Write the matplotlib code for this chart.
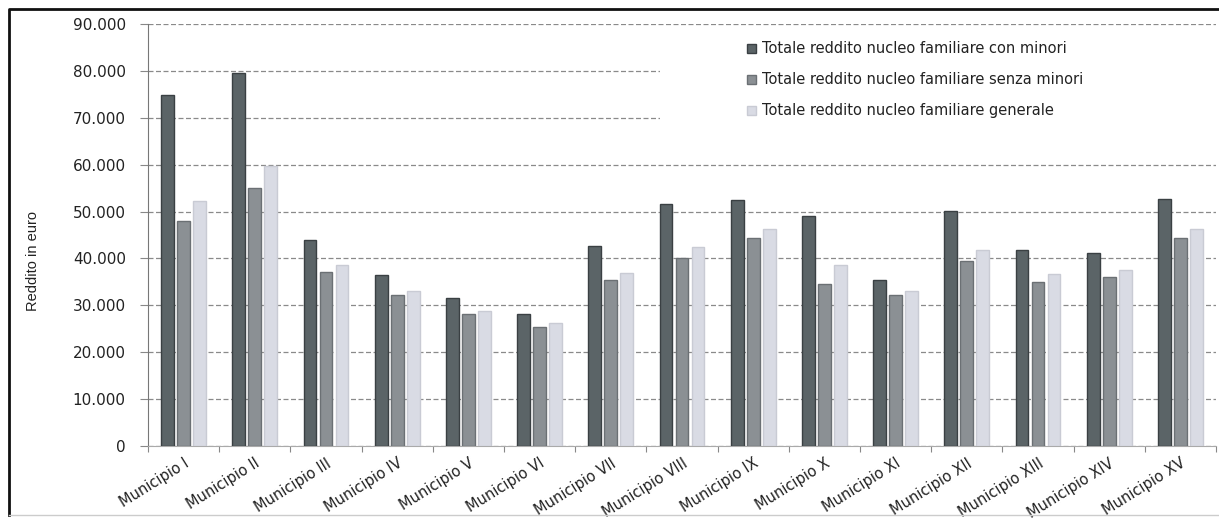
import numpy as np
import matplotlib
matplotlib.use("Agg")
import matplotlib.pyplot as plt
from matplotlib.lines import Line2D
from matplotlib.patches import Rectangle
from matplotlib.ticker import FuncFormatter, MultipleLocator


municipi = ["Municipio I", "Municipio II", "Municipio III", "Municipio IV",
            "Municipio V", "Municipio VI", "Municipio VII", "Municipio VIII",
            "Municipio IX", "Municipio X", "Municipio XI", "Municipio XII",
            "Municipio XIII", "Municipio XIV", "Municipio XV"]

con_minori = [74800, 79600, 43900, 36500, 31500, 28100, 42700, 51600,
              52500, 49100, 35500, 50100, 41800, 41100, 52700]
senza_minori = [48000, 55000, 37000, 32200, 28100, 25400, 35500, 40100,
                44300, 34500, 32300, 39400, 35000, 36100, 44300]
generale = [52300, 59800, 38600, 33100, 28800, 26300, 36800, 42400,
            46300, 38600, 33000, 41900, 36600, 37500, 46300]

serie = [
    ("Totale reddito nucleo familiare con minori", con_minori, "#5b6467", "#3a4043"),
    ("Totale reddito nucleo familiare senza minori", senza_minori, "#8b9094", "#6b7074"),
    ("Totale reddito nucleo familiare generale", generale, "#d9dbe4", "#c9cbd4"),
]


def migliaia(v, pos):
    return f"{int(v):,}".replace(",", ".")


fig = plt.figure(figsize=(12.19, 5.19), dpi=100)
ax = fig.add_axes([0.1214, 0.1407, 0.8761, 0.8131])

x = np.arange(len(municipi))
w = 0.18
passo = 0.225
for i, (nome, valori, colore, bordo) in enumerate(serie):
    ax.bar(x + (i - 1) * passo, valori, width=w, color=colore,
           edgecolor=bordo, linewidth=1.0, label=nome, zorder=3)

ax.set_xlim(-0.5, len(municipi) - 0.5)
ax.set_ylim(0, 90000)
ax.yaxis.set_major_locator(MultipleLocator(10000))
ax.yaxis.set_major_formatter(FuncFormatter(migliaia))
ax.set_axisbelow(True)
ax.grid(axis="y", color="#8a8a8a", linestyle=(0, (4, 2)), linewidth=0.9, zorder=0)

# fondo bianco dietro la legenda
ax.add_patch(Rectangle((0.479, 0.678), 0.521, 0.31, transform=ax.transAxes,
                       facecolor="white", edgecolor="none", zorder=1))

ax.set_xticks(x)
ax.set_xticklabels(municipi, rotation=32, ha="right", rotation_mode="anchor",
                   fontsize=10.5, color="#222222")
ax.set_xticks(np.arange(len(municipi) + 1) - 0.5, minor=True)
ax.tick_params(axis="x", which="major", length=0, pad=7)
ax.tick_params(axis="x", which="minor", length=4, color="#888888", width=0.8)
ax.tick_params(axis="y", length=6, color="#888888", pad=10, labelsize=11,
               labelcolor="#222222")

for s in ["top", "right"]:
    ax.spines[s].set_visible(False)
ax.spines["left"].set_color("#777777")
ax.spines["bottom"].set_color("#aaaaaa")

ax.set_ylabel("Reddito in euro", fontsize=10.5, family="Liberation Sans",
              color="#222222")
ax.yaxis.set_label_coords(-0.101, 0.438)

leg = ax.legend(loc="upper left", bbox_to_anchor=(0.549, 0.99), frameon=False,
                prop={"size": 10.5},
                handlelength=0.6, handleheight=0.6, handletextpad=0.4,
                labelspacing=1.1)
for t in leg.get_texts():
    t.set_color("#222222")

# cornice esterna
fig.add_artist(Line2D([9 / 1219, 9 / 1219, 1], [4 / 519, 1 - 9 / 519, 1 - 9 / 519],
                      transform=fig.transFigure, color="#111111", linewidth=2.0))
fig.add_artist(Line2D([9 / 1219, 1], [4 / 519, 4 / 519],
                      transform=fig.transFigure, color="#cccccc", linewidth=1.0))

fig.savefig("out.png", dpi=100)
